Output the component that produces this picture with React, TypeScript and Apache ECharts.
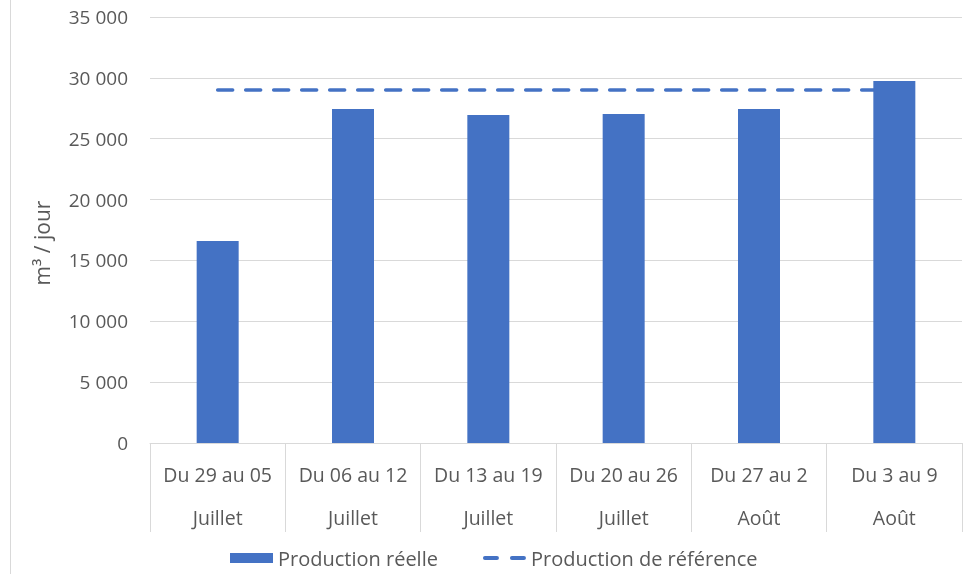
import React, { useEffect, useRef } from "react";
import * as echarts from "echarts";

const weeks = ["Du 29 au 05", "Du 06 au 12", "Du 13 au 19", "Du 20 au 26", "Du 27 au 2", "Du 3 au 9"];
const months = ["Juillet", "Juillet", "Juillet", "Juillet", "Août", "Août"];
const productionReelle = [16600, 27450, 26950, 27030, 27440, 29750];
const productionReference = [29000, 29000, 29000, 29000, 29000, 29000];
const yTicks = { min: 0, max: 35000, interval: 5000 };

const FONT = "'Open Sans', 'Noto Sans', sans-serif";
const TXT = "#595959";
const GRID = "#d9d9d9";
const BLUE = "#4472C4";
const DASH = [15, 13];

export default function App() {
  const ref = useRef<HTMLDivElement>(null);
  useEffect(() => {
    const chart = echarts.init(ref.current!, null, { renderer: "svg" });
    const categories = weeks.map((w, i) => w + "\n" + months[i]);
    chart.setOption({
      animation: false,
      textStyle: { fontFamily: FONT },
      grid: { left: 150, right: 13, top: 17, bottom: 131, containLabel: false },
      legend: {
        left: 225,
        top: 543,
        itemWidth: 43,
        itemHeight: 10,
        itemGap: 45,
        symbolKeepAspect: true,
        textStyle: { fontFamily: FONT, fontSize: 20, color: TXT },
        data: [
          { name: "Production réelle", icon: "rect" },
          {
            name: "Production de référence",
            icon: "path://M2,0H14A2,2 0 0 1 14,4H2A2,2 0 0 1 2,0Z M29,0H41A2,2 0 0 1 41,4H29A2,2 0 0 1 29,0Z",
          },
        ],
      },
      xAxis: {
        type: "category",
        data: categories,
        axisLine: { lineStyle: { color: GRID, width: 1 } },
        axisTick: { show: true, interval: 0, length: 89, lineStyle: { color: GRID }, alignWithLabel: false },
        axisLabel: {
          interval: 0,
          margin: 10,
          color: TXT,
          fontSize: 19.5,
          fontFamily: FONT,
          lineHeight: 43,
        },
      },
      yAxis: {
        type: "value",
        min: yTicks.min,
        max: yTicks.max,
        interval: yTicks.interval,
        axisLine: { show: false },
        axisTick: { show: false },
        splitLine: { lineStyle: { color: GRID, width: 1 } },
        axisLabel: {
          margin: 22,
          color: TXT,
          fontSize: 19,
          fontFamily: FONT,
          formatter: (v: number) => String(v).replace(/\B(?=(\d{3})+(?!\d))/g, " "),
        },
      },
      graphic: [
        { type: "line", shape: { x1: 10.5, y1: 0, x2: 10.5, y2: 574 }, style: { stroke: GRID, lineWidth: 1 } },
        {
          type: "text",
          x: 42,
          y: 243,
          rotation: Math.PI / 2,
          style: { text: "m³ / jour", fill: TXT, font: `21px ${FONT}`, align: "center", verticalAlign: "middle" },
        },
      ],
      series: [
        {
          name: "Production de référence",
          type: "line",
          data: productionReference,
          symbol: "none",
          z: 1,
          lineStyle: { color: BLUE, width: 3.5, type: DASH, cap: "round" },
          itemStyle: { color: BLUE },
        },
        {
          name: "Production réelle",
          type: "bar",
          data: productionReelle,
          barWidth: 42,
          z: 2,
          itemStyle: { color: BLUE },
        },
      ],
    });
    return () => chart.dispose();
  }, []);
  return <div ref={ref} style={{ position: "fixed", left: 0, top: 0, width: 975, height: 574 }} />;
}
